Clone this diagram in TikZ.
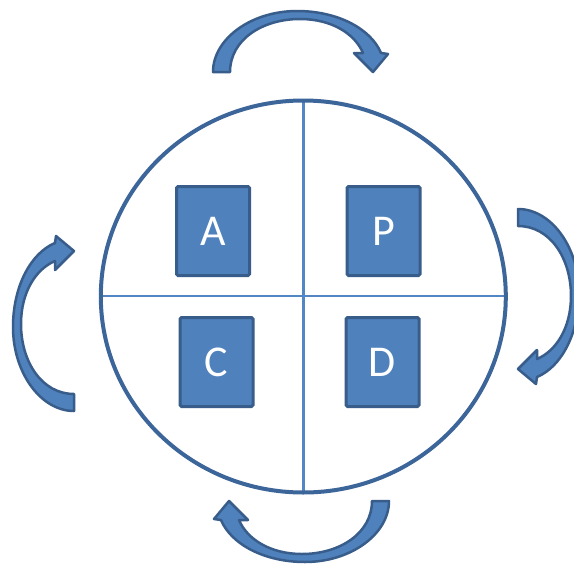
\documentclass[tikz,border=0pt]{standalone}
\usepackage{fontspec}
\setmainfont{Carlito}
\definecolor{boxfill}{HTML}{4F81BD}
\definecolor{boxline}{HTML}{385D8A}
\definecolor{ringline}{HTML}{3C659A}
\definecolor{divline}{HTML}{5286C4}
\tikzset{
  pbox/.style={draw=boxline, fill=boxfill, line width=3pt, rounded corners=1.5pt,
    minimum width=73pt, minimum height=89pt, inner sep=0pt, text=white,
    font=\fontsize{44}{50}\selectfont},
  ringstyle/.style={draw=ringline, line width=4pt},
  divider/.style={draw=divline, line width=2.5pt},
  arrowstyle/.style={fill=boxfill, draw=boxline, line width=2.5pt, line join=round}
}
\newcommand\pdcaArrow{%
  \filldraw[arrowstyle] (-87,30) .. controls (-87,-3) and (-49,-31) .. (-3,-31)
    .. controls (38,-31) and (71,-13) .. (81,11)
    -- (88,12) -- (73,30) -- (54,11) -- (63,11)
    .. controls (55,-8) and (32,-23) .. (0,-23)
    .. controls (-38,-23) and (-70,-2) .. (-70,30) -- cycle;}
\begin{document}
\begin{tikzpicture}[x=1pt, y=-1pt]
  \useasboundingbox (0,0) rectangle (574,566);
  \fill[white] (0,0) rectangle (574,566);
  \clip (0,0) rectangle (574,566);
  % ring and dividers
  \coordinate (ringT) at (303.3,100.5);
  \coordinate (ringB) at (303.3,492.5);
  \coordinate (ringL) at (100.8,296);
  \coordinate (ringR) at (505.8,296);
  \draw[divider] (ringT) -- (ringB);
  \draw[divider] (ringL) -- (ringR);
  \draw[ringstyle] (303.3,296.5) ellipse [x radius=202.5pt, y radius=196pt];
  % boxes
  \node[pbox] (A) at (213,231) {A};
  \node[pbox] (P) at (383.5,231) {P};
  \node[pbox] (C) at (216.5,362) {C};
  \node[pbox] (D) at (382.5,362) {D};
  % cycle arrows
  \begin{scope}[shift={(300,42)}]\pdcaArrow\end{scope}
  \begin{scope}[shift={(548,296)}, rotate=-90]\pdcaArrow\end{scope}
  \begin{scope}[shift={(302,531)}, rotate=180]\pdcaArrow\end{scope}
  \begin{scope}[shift={(44,324)}, rotate=90]\pdcaArrow\end{scope}
\end{tikzpicture}
\end{document}
